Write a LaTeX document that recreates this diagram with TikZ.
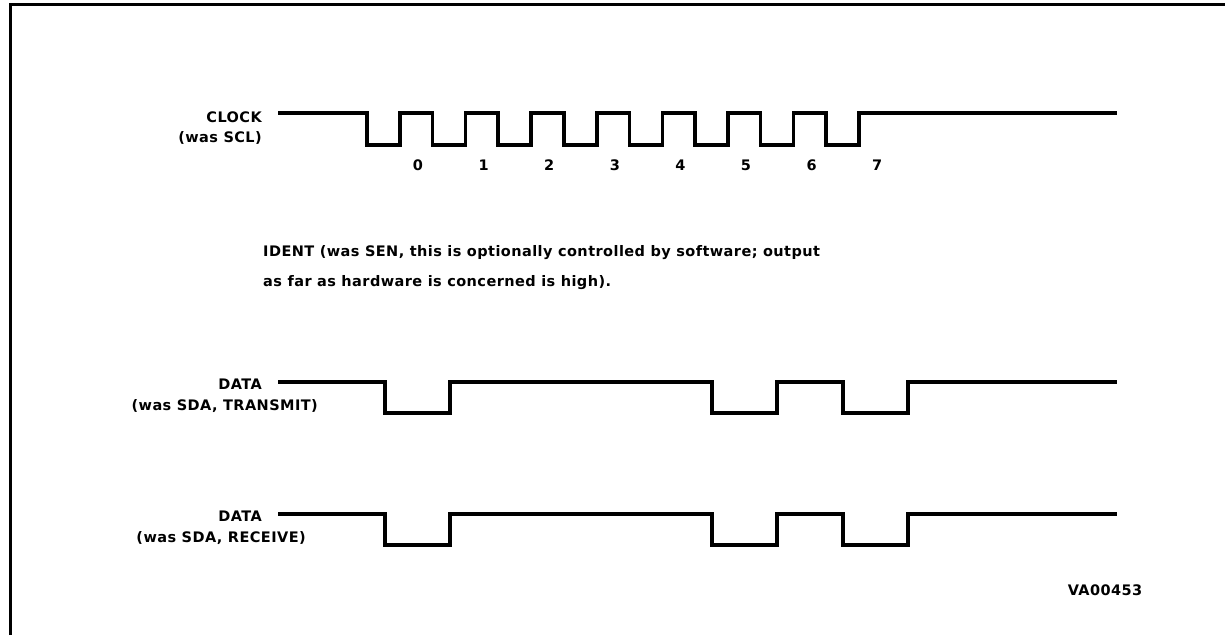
\documentclass[tikz,border=0pt]{standalone}
\usepackage{fontspec}
\setmainfont{DejaVu Sans}[LetterSpace=3]
\begin{document}
\begin{tikzpicture}[x=1pt, y=-1pt,
    wave/.style={line width=3.5pt, line join=miter},
    lbl/.style={font=\fontsize{14.5}{16}\selectfont\bfseries, inner sep=0pt}]
  \useasboundingbox (0,0) rectangle (1225,635);
  % Frame, only the top and left edges show.
  \draw[line width=3pt] (10,635) -- (10,4) -- (1225,4);
  % Clock with its eight pulses.
  \node[lbl, anchor=east] (clk) at (262,117) {CLOCK};
  \node[lbl, anchor=east] (scl) at (262,138) {(was SCL)};
  \draw[wave] (278,113) -- (367,113)
    \foreach \i in {0,...,7} {-- ++(0,32) -- ++(33,0) -- ++(0,-32) -- ++(32.6,0)}
    -- (1117,113);
  \foreach \i in {0,...,7}
    \node[lbl] (bit\i) at ({418+65.6*\i},165) {\i};
  % Ident note.
  \node[lbl, anchor=west] (ident) at (263,253)
    {IDENT (was SEN, this is optionally controlled by software; output};
  \node[lbl, anchor=west] (ident2) at (263,283)
    {as far as hardware is concerned is high).};
  % Data, transmit and receive.
  \foreach \y/\nm/\dx in {382/{TRANSMIT}/318, 514/{RECEIVE}/306} {
    \node[lbl, anchor=east] at (262,\y+2) {DATA};
    \node[lbl, anchor=east] at (\dx,\y+24) {(was SDA, \nm)};
    \draw[wave] (278,\y) -- (385,\y) -- (385,\y+31) -- (450,\y+31) -- (450,\y)
      -- (712,\y) -- (712,\y+31) -- (777,\y+31) -- (777,\y)
      -- (843,\y) -- (843,\y+31) -- (908,\y+31) -- (908,\y) -- (1117,\y);
  }
  \node[lbl] (ref) at (1105,590) {VA00453};
\end{tikzpicture}
\end{document}
